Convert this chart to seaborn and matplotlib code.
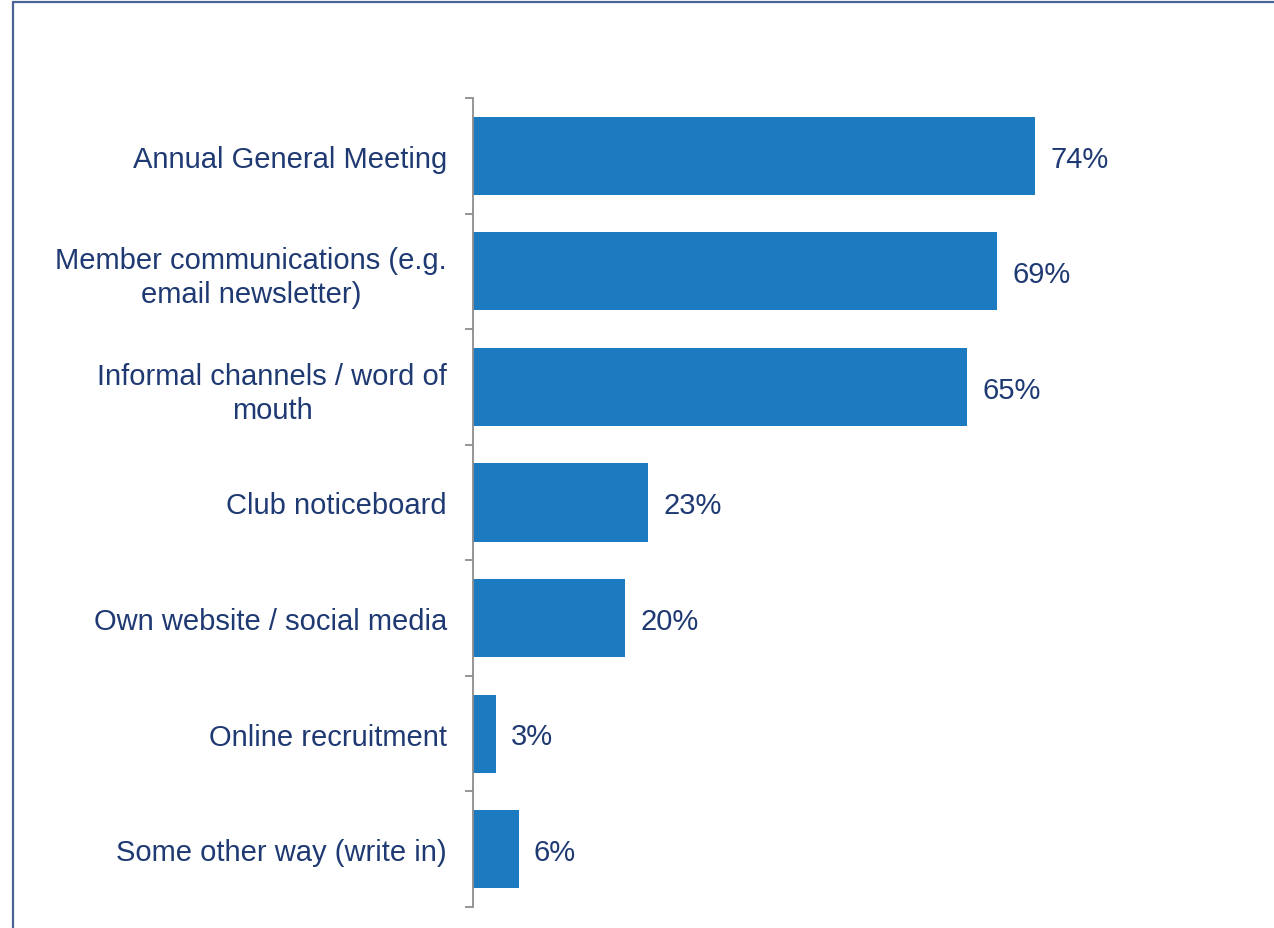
import matplotlib
matplotlib.use("Agg")
import matplotlib.pyplot as plt
from matplotlib.lines import Line2D
import seaborn as sns
import pandas as pd
import numpy as np

categories = [
    "Annual General Meeting",
    "Member communications (e.g.\nemail newsletter)",
    "Informal channels / word of\nmouth",
    "Club noticeboard",
    "Own website / social media",
    "Online recruitment",
    "Some other way (write in)",
]
shares = [74, 69, 65, 23, 20, 3, 6]

bar_color = "#1C7BC0"
text_color = "#1F3A73"
frame_color = "#4A6497"

df = pd.DataFrame({"channel": categories, "share": shares})

sns.set_theme(style="white")
plt.rcParams["font.family"] = ["Liberation Sans", "DejaVu Sans"]

fig = plt.figure(figsize=(12.74, 9.29), dpi=100)
ax = fig.add_axes([473 / 1274, 1 - 908 / 929, 760 / 1274, (908 - 99) / 929])

sns.barplot(data=df, x="share", y="channel", orient="h", color=bar_color,
            saturation=1, width=0.675, linewidth=0, ax=ax)

ax.set_xlim(0, 100)
ax.set_ylim(len(categories) - 0.5, -0.5)
ax.set_xlabel("")
ax.set_ylabel("")
ax.set_xticks([])

for side in ["top", "right", "bottom"]:
    ax.spines[side].set_visible(False)
ax.spines["left"].set_color("#8C8C8C")
ax.spines["left"].set_linewidth(1.3)

# category labels sit at centers; tick marks sit at category boundaries
ax.set_yticks(range(len(categories)))
ax.set_yticklabels(categories, color=text_color, fontsize=21,
                   multialignment="center", linespacing=1.27)
ax.tick_params(axis="y", which="major", length=0, pad=26 * 0.72)
ax.set_yticks(np.arange(-0.5, len(categories), 1.0), minor=True)
ax.tick_params(axis="y", which="minor", length=6, width=1.3,
               color="#8C8C8C", left=True)

for i, v in enumerate(shares):
    ax.annotate(f"{v}%", xy=(v, i), xytext=(11, -2), textcoords="offset points",
                va="center", ha="left", fontsize=21, color=text_color)

# slide frame
fig.add_artist(Line2D([13 / 1274, 13 / 1274], [0, 1 - 3 / 929],
                      transform=fig.transFigure, color=frame_color, lw=1.6))
fig.add_artist(Line2D([13 / 1274, 1], [1 - 3 / 929, 1 - 3 / 929],
                      transform=fig.transFigure, color=frame_color, lw=1.6))

fig.savefig("out.png", dpi=100, facecolor="white")
